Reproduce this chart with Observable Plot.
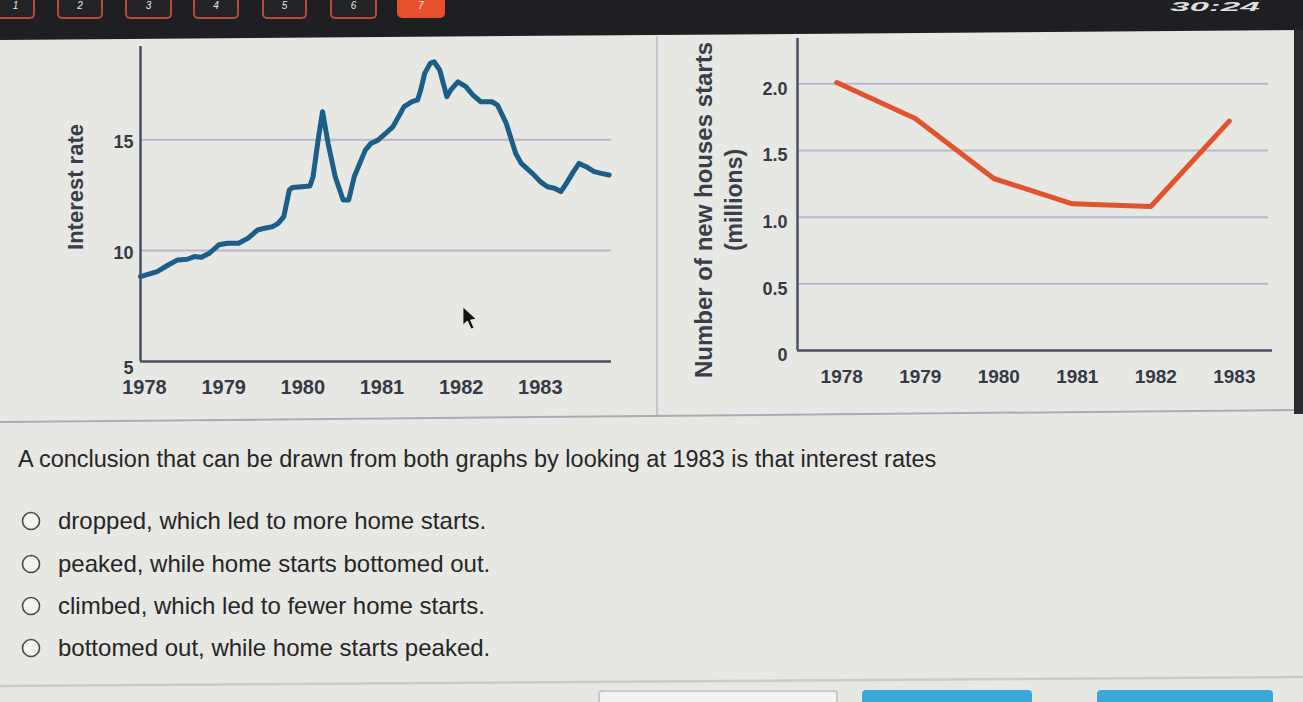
<!DOCTYPE html>
<html>
<head>
<meta charset="utf-8">
<script src="https://cdn.jsdelivr.net/npm/d3@7"></script>
<script src="https://cdn.jsdelivr.net/npm/@observablehq/plot@0.6"></script>
<style>
html,body{margin:0;padding:0;width:1303px;height:702px;overflow:hidden;background:#e7e7e3;font-family:"Liberation Sans",Arial,sans-serif;}
.abs{position:absolute;}
#topbar{left:0;top:0;width:1303px;height:42px;background:#1e1f23;clip-path:polygon(0 0,100% 0,100% 30px,0 40px);z-index:10;}
.btn{position:absolute;top:-4px;height:23px;box-sizing:border-box;border:2px solid #b8493e;border-top:none;border-radius:0 0 5px 5px;background:#232428;overflow:hidden;}
.btn span{position:absolute;left:0;right:0;top:4px;text-align:center;color:#e8e8e8;font-size:10px;line-height:11px;font-style:italic;}
.btn.cur{background:#e5502d;border-color:#e5502d;}
#timer{left:1170px;top:0px;color:#dedede;font-size:13px;line-height:13px;font-style:italic;font-weight:bold;transform:scaleX(2.7);transform-origin:0 0;}
.ylab{position:absolute;white-space:nowrap;font-weight:bold;color:#3a3e49;transform:translate(-50%,-50%) rotate(-90deg);}
.q{position:absolute;left:18px;font-size:23.5px;color:#262626;white-space:nowrap;}
.opt{position:absolute;left:58px;font-size:24px;color:#262626;white-space:nowrap;}
#leftplot{left:50px;top:38px;}
#rightplot{left:660px;top:38px;}
.bbtn{position:absolute;top:690px;height:30px;box-sizing:border-box;border-radius:4px 4px 0 0;}
</style>
</head>
<body>
<script>
// ---- Data ----
const yearTicks = [1978, 1979, 1980, 1981, 1982, 1983];

// Interest rate (left chart)
const rateYears = [1978.00,1978.21,1978.35,1978.47,1978.59,1978.68,1978.77,1978.87,1978.99,1979.10,1979.24,1979.36,1979.48,1979.57,1979.67,1979.74,1979.81,1979.88,1979.92,1980.04,1980.14,1980.18,1980.25,1980.30,1980.37,1980.46,1980.56,1980.63,1980.70,1980.77,1980.84,1980.91,1981.00,1981.10,1981.19,1981.26,1981.33,1981.43,1981.50,1981.54,1981.59,1981.66,1981.71,1981.78,1981.87,1981.92,1982.01,1982.11,1982.20,1982.30,1982.44,1982.51,1982.62,1982.74,1982.81,1982.95,1983.05,1983.14,1983.23,1983.31,1983.38,1983.47,1983.54,1983.63,1983.73,1983.82,1983.92];
const rateValues = [8.83,9.05,9.35,9.58,9.61,9.73,9.70,9.88,10.26,10.33,10.33,10.56,10.93,11.01,11.08,11.23,11.53,12.73,12.84,12.88,12.91,13.33,15.14,16.26,14.83,13.33,12.28,12.28,13.33,13.93,14.53,14.83,14.98,15.29,15.59,16.04,16.49,16.71,16.79,17.24,17.99,18.44,18.51,18.14,16.94,17.24,17.61,17.39,17.01,16.71,16.71,16.56,15.74,14.38,13.93,13.48,13.11,12.88,12.81,12.66,13.03,13.56,13.93,13.78,13.56,13.48,13.41];
const rateTicks = [10, 15];
const rateBaseTick = [5];

// New housing starts in millions (right chart)
const startYears = [1978, 1979, 1980, 1981, 1982, 1983];
const startValues = [2.01, 1.74, 1.29, 1.10, 1.08, 1.72];
const startTicks = [0, 0.5, 1.0, 1.5, 2.0];
const startTickLabels = ["0", "0.5", "1.0", "1.5", "2.0"];

// Page text
const questionText = "A conclusion that can be drawn from both graphs by looking at 1983 is that interest rates";
const options = [
  "dropped, which led to more home starts.",
  "peaked, while home starts bottomed out.",
  "climbed, which led to fewer home starts.",
  "bottomed out, while home starts peaked."
];
const leftYLabel = "Interest rate";
const rightYLabel = "Number of new houses starts";
const rightYLabel2 = "(millions)";
</script>

<div id="topbar" class="abs">
  <div class="btn" style="left:-4px;width:39px"><span>1</span></div>
  <div class="btn" style="left:57px;width:46px"><span>2</span></div>
  <div class="btn" style="left:125px;width:47px"><span>3</span></div>
  <div class="btn" style="left:193px;width:46px"><span>4</span></div>
  <div class="btn" style="left:262px;width:45px"><span>5</span></div>
  <div class="btn" style="left:330px;width:47px"><span>6</span></div>
  <div class="btn cur" style="left:397px;width:48px;height:22px"><span>7</span></div>
  <div id="timer" class="abs">30:24</div>
</div>

<svg class="abs" style="left:0;top:0;z-index:1" width="1303" height="702">
  <line x1="657" y1="36" x2="657" y2="416" stroke="#c3c6cf" stroke-width="2"/>
  <line x1="0" y1="422" x2="1303" y2="410" stroke="#a8acb7" stroke-width="2"/>
  <line x1="0" y1="686" x2="1303" y2="677" stroke="#c9cbd0" stroke-width="2.5"/>
  <rect x="1294" y="0" width="9" height="414" fill="#2a2b30"/>
  <g fill="#f4f4f2" stroke="#4a4a4a" stroke-width="1.6">
    <circle cx="31" cy="521" r="8.5"/>
    <circle cx="31" cy="564" r="8.5"/>
    <circle cx="31" cy="606" r="8.5"/>
    <circle cx="31" cy="648" r="8.5"/>
  </g>
  <path d="M463,307 L463,325 L467.5,321 L471,329 L474,328 L470.5,320 L476,319 Z" fill="#111" stroke="#eee" stroke-width="0.8"/>
</svg>

<div id="leftplot" class="abs" style="z-index:2"></div>
<div id="rightplot" class="abs" style="z-index:2"></div>

<div class="ylab" id="ly" style="left:76px;top:187px;font-size:22px"></div>
<div class="ylab" id="ry" style="left:704px;top:210px;font-size:24px;z-index:3"></div>
<div class="ylab" id="ry2" style="left:734px;top:200px;font-size:23px"></div>

<div class="q" id="q" style="top:446px"></div>
<div id="opts"></div>

<div class="bbtn" style="left:598px;width:240px;border:2px solid #c8c9cc;background:#f3f3f1"></div>
<div class="bbtn" style="left:862px;width:170px;background:#3aa8da"></div>
<div class="bbtn" style="left:1097px;width:176px;background:#3aa8da"></div>

<script>
document.getElementById("ly").textContent = leftYLabel;
document.getElementById("ry").textContent = rightYLabel;
document.getElementById("ry2").textContent = rightYLabel2;
document.getElementById("q").textContent = questionText;
const optTops = [507, 550, 592, 634];
const optWrap = document.getElementById("opts");
options.forEach((t, i) => {
  const d = document.createElement("div");
  d.className = "opt";
  d.style.top = optTops[i] + "px";
  d.textContent = t;
  optWrap.appendChild(d);
});

const axisColor = "#4a5069";
const gridColor = "#b6bacb";
const tickColor = "#363a46";

const rates = rateYears.map((t, i) => ({t, v: rateValues[i]}));
const leftPlot = Plot.plot({
  width: 580, height: 372,
  marginLeft: 90, marginRight: 19, marginTop: 8, marginBottom: 49,
  style: {background: "transparent", fontFamily: "Liberation Sans, Arial, sans-serif", fontWeight: "bold", color: tickColor, overflow: "visible"},
  x: {domain: [1978, 1983.95], label: null},
  y: {domain: [5, 19.2], label: null},
  marks: [
    Plot.ruleY(rateTicks, {stroke: gridColor, strokeWidth: 2}),
    Plot.ruleY(rateBaseTick, {stroke: axisColor, strokeWidth: 2.5}),
    Plot.ruleX([yearTicks[0]], {stroke: axisColor, strokeWidth: 2.5}),
    Plot.line(rates, {x: "t", y: "v", stroke: "#1b5e87", strokeWidth: 5, strokeLinejoin: "round", strokeLinecap: "round"}),
    Plot.axisX(yearTicks, {tickSize: 0, tickPadding: 18, fontSize: 20, dx: 4, tickFormat: d => String(d), label: null}),
    Plot.axisY(rateTicks, {tickSize: 0, tickPadding: 7, fontSize: 18, dy: 3, label: null}),
    Plot.axisY(rateBaseTick, {tickSize: 0, tickPadding: 7, fontSize: 18, dy: 7, label: null})
  ]
});
document.getElementById("leftplot").appendChild(leftPlot);

const starts = startYears.map((t, i) => ({t, v: startValues[i]}));
const rightPlot = Plot.plot({
  width: 630, height: 372,
  marginLeft: 137, marginRight: 18, marginTop: 0, marginBottom: 60,
  style: {background: "transparent", fontFamily: "Liberation Sans, Arial, sans-serif", fontWeight: "bold", color: tickColor, overflow: "visible"},
  x: {domain: [1977.5, 1983.55], label: null},
  y: {domain: [0, 2.34], label: null},
  marks: [
    Plot.ruleY(startTicks.slice(1), {stroke: gridColor, strokeWidth: 2, x1: 1977.5, x2: 1983.5}),
    Plot.ruleY([startTicks[0]], {stroke: axisColor, strokeWidth: 2.5}),
    Plot.ruleX([1977.5], {stroke: axisColor, strokeWidth: 2.5}),
    Plot.line(starts, {x: "t", y: "v", stroke: "#e1522d", strokeWidth: 5, strokeLinejoin: "round", strokeLinecap: "round"}),
    Plot.axisX(yearTicks, {tickSize: 0, tickPadding: 19, fontSize: 19, dx: 5, tickFormat: d => String(d), label: null}),
    Plot.axisY(startTicks, {tickSize: 0, tickPadding: 10, fontSize: 18, dy: 5, tickFormat: (d, i) => startTickLabels[i], label: null})
  ]
});
document.getElementById("rightplot").appendChild(rightPlot);
</script>
</body>
</html>
